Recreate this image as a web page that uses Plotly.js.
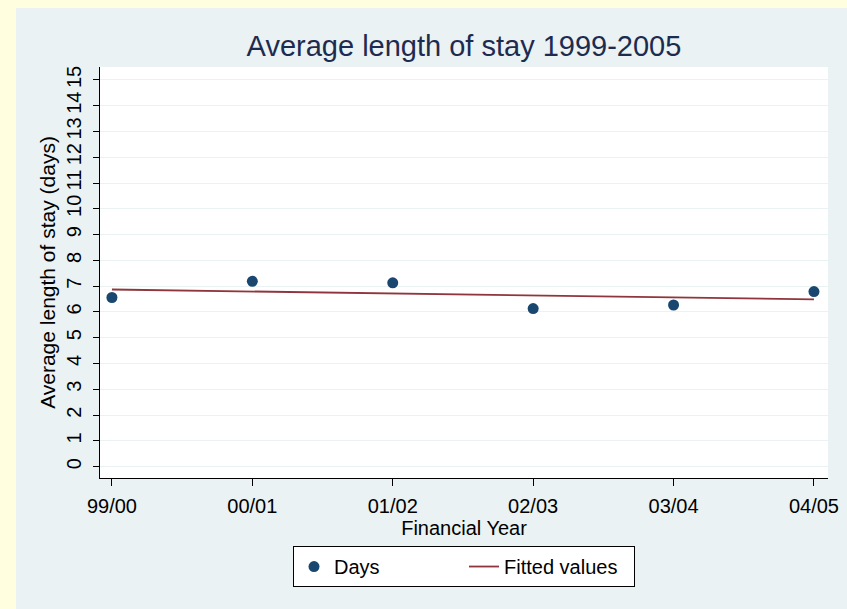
<!DOCTYPE html>
<html>
<head>
<meta charset="utf-8">
<script src="https://cdn.plot.ly/plotly-3.0.1.min.js"></script>
<style>
html, body { margin: 0; padding: 0; background: #FFFFE0; width: 847px; height: 609px; overflow: hidden; }
#chart { position: absolute; left: 16px; top: 8px; width: 831px; height: 601px; }
</style>
</head>
<body>
<div id="chart"></div>
<script>
// Data
const years = ["99/00", "00/01", "01/02", "02/03", "03/04", "04/05"];
const days = [6.56, 7.19, 7.13, 6.13, 6.27, 6.79];
const fitted = [6.87, 6.79, 6.72, 6.64, 6.57, 6.49];
const yTicks = [0, 1, 2, 3, 4, 5, 6, 7, 8, 9, 10, 11, 12, 13, 14, 15];

const xIdx = years.map((_, i) => i);
const font = "Liberation Sans, Arial, sans-serif";

const traces = [
  {
    x: xIdx, y: days, name: "Days", type: "scatter", mode: "markers",
    marker: { color: "#1A476F", size: 11 }
  },
  {
    x: xIdx, y: fitted, name: "Fitted values", type: "scatter", mode: "lines",
    line: { color: "#90353B", width: 1.8 }
  }
];

const layout = {
  width: 831, height: 601,
  paper_bgcolor: "#EAF2F3",
  plot_bgcolor: "#FFFFFF",
  margin: { l: 84, r: 19, t: 59, b: 131 },
  font: { family: font, size: 20, color: "#000000" },
  title: {
    text: "Average length of stay 1999-2005",
    font: { family: font, size: 29, color: "#1E2B50" },
    xref: "paper", x: 0.5, xanchor: "center",
    yref: "container", y: 0.937, yanchor: "middle"
  },
  xaxis: {
    range: [-0.085, 5.1],
    tickmode: "array", tickvals: xIdx, ticktext: years,
    showgrid: false, zeroline: false,
    showline: true, linecolor: "#000000", linewidth: 1,
    ticks: "outside", ticklen: 7, tickcolor: "#000000",
    ticklabelstandoff: 3,
    tickfont: { family: font, size: 20, color: "#000000" },
    title: { text: "Financial Year", font: { family: font, size: 20, color: "#000000" }, standoff: 1 }
  },
  yaxis: {
    range: [-0.44, 15.5],
    tickmode: "array", tickvals: yTicks, ticktext: yTicks.map(String),
    tickangle: -90,
    showgrid: true, gridcolor: "#EAF2F3", gridwidth: 1,
    zeroline: false,
    showline: true, linecolor: "#000000", linewidth: 1,
    ticks: "outside", ticklen: 6, tickcolor: "#000000",
    ticklabelstandoff: 4,
    tickfont: { family: font, size: 20, color: "#000000" },
    title: { text: "Average length of stay (days)", font: { family: font, size: 21, color: "#000000" }, standoff: 1 }
  },
  showlegend: true,
  legend: {
    orientation: "h",
    x: 0.5, xanchor: "center", xref: "paper",
    y: -0.1655, yanchor: "top", yref: "paper",
    bgcolor: "#FFFFFF", bordercolor: "#000000", borderwidth: 1,
    font: { family: font, size: 20, color: "#000000" },
    entrywidth: 125, entrywidthmode: "pixels",
    traceorder: "normal"
  }
};

Plotly.newPlot("chart", traces, layout, { displayModeBar: false, staticPlot: true });
</script>
</body>
</html>
